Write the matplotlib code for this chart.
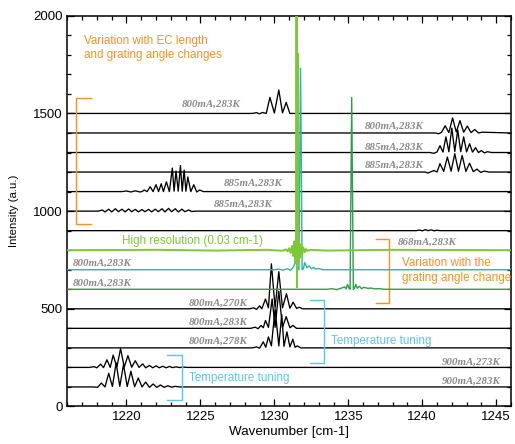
import matplotlib
matplotlib.use("Agg")
import matplotlib.pyplot as plt
from matplotlib.ticker import MultipleLocator

plt.rcParams['font.family'] = ['Liberation Sans', 'DejaVu Sans']

# ---------------- data (offsets above each baseline) ----------------
XMIN, XMAX = 1216, 1246

s1_x = [1216, 1228.5, 1228.8, 1229.0, 1229.2, 1229.45, 1229.7, 1230.0, 1230.3, 1230.55, 1230.8, 1231.05, 1246]
s1_y = [0, 0, 4, -2, 5, 0, 82, 2, 120, 3, 56, 0, 0]

s2_x = [1216, 1240.9, 1241.1, 1241.3, 1241.55, 1241.8, 1242.05, 1242.3, 1242.55, 1242.8, 1243.05, 1243.3, 1243.55, 1243.8, 1244.05, 1246]
s2_y = [0, 0, -4, 3, 37, 2, 77, 5, 63, 4, 35, 2, 18, 0, 4, 0]

s3_x = [1216, 1240.5, 1240.8, 1241.0, 1241.2, 1241.4, 1241.6, 1241.8, 1242.0, 1242.2, 1242.4, 1242.6, 1242.8, 1243.0, 1243.2, 1243.4, 1243.6, 1243.8, 1244.0, 1244.2, 1244.4, 1244.7, 1246]
s3_y = [0, 0, -4, 3, 35, 2, 80, 4, 125, 5, 115, 4, 80, 3, 45, 2, 25, 0, 10, -2, 4, 0, 0]

s4_x = [1216, 1240.2, 1240.4, 1240.6, 1240.8, 1241.0, 1241.2, 1241.45, 1241.7, 1241.95, 1242.2, 1242.45, 1242.7, 1242.95, 1243.2, 1243.45, 1243.7, 1243.95, 1244.2, 1244.5, 1246]
s4_y = [0, 0, -5, 2, 8, 0, 43, 3, 77, 4, 94, 4, 85, 3, 45, 2, 15, -2, 5, 0, 0]

s5_x = [1216, 1219.7, 1220.0, 1220.3, 1220.6, 1220.9, 1221.05, 1221.2, 1221.4, 1221.6, 1221.8, 1222.0, 1222.17, 1222.35, 1222.5, 1222.7, 1222.9, 1223.1, 1223.22, 1223.35, 1223.5, 1223.65, 1223.77, 1223.9, 1224.02, 1224.15, 1224.35, 1224.55, 1224.75, 1224.95, 1225.2, 1246]
s5_y = [0, 0, 3, -2, 4, -2, 0, 8, 0, 25, 0, 35, 0, 40, 0, 50, 0, 120, 2, 105, 2, 133, 2, 110, 2, 75, 0, 35, -2, 8, 0, 0]

s6_x = [1216, 1218.1, 1218.35, 1218.55, 1218.8, 1219.0, 1219.25, 1219.45, 1219.7, 1219.9, 1220.15, 1220.35, 1220.6, 1220.8, 1221.05, 1221.25, 1221.5, 1221.7, 1221.95, 1222.15, 1222.4, 1222.6, 1222.85, 1223.05, 1223.3, 1223.5, 1223.75, 1223.95, 1224.2, 1224.4, 1224.7, 1246]
s6_y = [0, 0, 6, -4, 10, -4, 12, -3, 10, -4, 11, -3, 9, -4, 8, -3, 9, -4, 10, -3, 12, -4, 14, -3, 12, -4, 10, -3, 6, -2, 0, 0]

s7_x = [1216, 1239.6, 1239.8, 1240.0, 1240.2, 1240.4, 1240.6, 1240.8, 1241.0, 1241.2, 1246]
s7_y = [0, 0, 3, -1, 5, 0, 4, -1, 2, 0, 0]

hr_x = [1216, 1222.0, 1226.0, 1229.5, 1230.5, 1230.8, 1230.9, 1231.0, 1231.1, 1231.2, 1231.28, 1231.35, 1231.42, 1231.47, 1231.5, 1231.53, 1231.58, 1231.62, 1231.66, 1231.72, 1231.8, 1231.88, 1231.96, 1232.05, 1232.15, 1232.25, 1232.4, 1233.5, 1238.0, 1246]
hr_y = [0, 2, -2, 2, -3, 4, -6, 10, -14, 22, -30, 45, -60, 80, 1500, -190, 1008, -70, 55, -40, 30, -22, 14, -10, 6, -4, 2, -2, 2, 0]

tl_x = [1216, 1230.0, 1230.3, 1230.6, 1230.9, 1231.1, 1231.3, 1231.45, 1231.58, 1231.66, 1231.77, 1231.88, 1231.97, 1232.05, 1232.2, 1232.35, 1232.5, 1232.65, 1232.8, 1233.0, 1233.3, 1246]
tl_y = [0, 0, 3, -2, 5, -3, 15, 46, 5, 0, 1031, 0, 5, 37, 10, 20, 5, 12, 3, 6, 0, 0]

dg_x = [1216, 1233.6, 1233.9, 1234.2, 1234.5, 1234.75, 1234.85, 1234.95, 1235.05, 1235.12, 1235.23, 1235.34, 1235.42, 1235.5, 1235.6, 1235.75, 1235.9, 1236.05, 1236.3, 1236.55, 1236.8, 1237.1, 1237.4, 1246]
dg_y = [0, 0, 3, -2, 5, 12, 2, 25, 5, 0, 982, 0, 5, 25, 5, 15, 3, 10, 5, 6, 2, 3, 0, 0]

s11_x = [1216, 1228.3, 1228.6, 1228.8, 1229.0, 1229.15, 1229.4, 1229.6, 1229.8, 1230.05, 1230.3, 1230.55, 1230.82, 1231.05, 1231.27, 1231.5, 1231.7, 1231.9, 1246]
s11_y = [0, 0, 5, -3, 15, 0, 50, 5, 230, 5, 190, 5, 77, 3, 34, 2, 8, 0, 0]

s12_x = [1216, 1228.4, 1228.7, 1228.9, 1229.1, 1229.25, 1229.4, 1229.6, 1229.85, 1230.05, 1230.3, 1230.55, 1230.8, 1231.05, 1231.25, 1231.5, 1246]
s12_y = [0, 0, 6, -2, 15, 3, 40, 5, 150, 5, 190, 5, 60, 3, 15, 0, 0]

s13_x = [1216, 1228.5, 1228.8, 1229.0, 1229.25, 1229.42, 1229.6, 1229.8, 1230.05, 1230.3, 1230.5, 1230.65, 1230.85, 1231.05, 1231.25, 1231.4, 1231.55, 1231.8, 1246]
s13_y = [0, 0, 5, -2, 31, 3, 56, 10, 200, 10, 170, 8, 82, 5, 44, 3, 10, 0, 0]

s14_x = [1216, 1217.5, 1217.8, 1218.0, 1218.25, 1218.45, 1218.68, 1218.9, 1219.1, 1219.35, 1219.6, 1219.85, 1220.1, 1220.35, 1220.6, 1220.85, 1221.1, 1221.3, 1221.55, 1221.78, 1222.0, 1222.22, 1222.45, 1222.68, 1222.9, 1223.12, 1223.35, 1223.6, 1223.8, 1224.1, 1246]
s14_y = [0, 0, 4, -2, 17, -1, 39, 0, 63, 2, 96, 2, 60, 1, 34, 0, 18, -2, 10, -2, 8, -2, 6, -2, 5, -1, 3, -1, 2, 0, 0]

s15_x = [1216, 1217.8, 1218.05, 1218.3, 1218.55, 1218.8, 1219.05, 1219.3, 1219.55, 1219.8, 1220.05, 1220.3, 1220.55, 1220.8, 1221.05, 1221.3, 1221.55, 1221.8, 1222.05, 1222.3, 1222.55, 1222.8, 1223.05, 1223.3, 1223.6, 1246]
s15_y = [0, 0, -2, 20, 0, 70, 2, 123, 3, 115, 2, 80, 1, 46, 0, 25, -2, 15, -2, 10, -2, 6, -1, 3, 0, 0]

black_spectra = [(1500, s1_x, s1_y), (1400, s2_x, s2_y), (1300, s3_x, s3_y), (1200, s4_x, s4_y),
                 (1100, s5_x, s5_y), (1000, s6_x, s6_y), (900, s7_x, s7_y),
                 (500, s11_x, s11_y), (400, s12_x, s12_y), (300, s13_x, s13_y),
                 (200, s14_x, s14_y), (100, s15_x, s15_y)]
color_spectra = [(600, dg_x, dg_y, '#2f9e4a', 1.0), (700, tl_x, tl_y, '#2fb3a5', 1.0),
                 (800, hr_x, hr_y, '#7cc934', 1.4)]

labels = [
    ("800mA,283K", 1223.77, 1546), ("800mA,283K", 1236.1, 1432), ("885mA,283K", 1236.1, 1329),
    ("885mA,283K", 1236.1, 1235), ("885mA,283K", 1226.6, 1142), ("885mA,283K", 1225.9, 1036),
    ("868mA,283K", 1238.35, 838), ("800mA,283K", 1216.34, 732), ("800mA,283K", 1216.34, 633),
    ("800mA,270K", 1224.22, 530), ("800mA,283K", 1224.22, 433), ("800mA,278K", 1224.22, 336),
    ("900mA,273K", 1241.34, 228), ("900mA,283K", 1241.34, 130),
]

xticks = [1220, 1225, 1230, 1235, 1240, 1245]
yticks = [0, 500, 1000, 1500, 2000]

ORANGE = '#f7931e'
BLUE = '#5bc6ee'

# ---------------- figure ----------------
fig = plt.figure(figsize=(5.15, 4.44), dpi=100)
ax = fig.add_axes([0.1307, 0.0845, 0.8615, 0.880])

for base, xs, ys in black_spectra:
    ax.plot(xs, [base + v for v in ys], color='black', lw=0.95, zorder=2)
for base, xs, ys, c, lw in color_spectra:
    ax.plot(xs, [base + v for v in ys], color=c, lw=lw, zorder=3)

for txt, x, y in labels:
    ax.text(x, y, txt, fontsize=7.8, fontweight='bold', fontstyle='italic', family='Liberation Serif',
            color='#8a8a8a', va='center', ha='left', zorder=4)

# annotations
ax.text(1217.1, 1870, "Variation with EC length", color=ORANGE, fontsize=8.4, va='center')
ax.text(1217.1, 1799, "and grating angle changes", color=ORANGE, fontsize=8.4, va='center')
ax.plot([1217.58, 1216.6, 1216.6, 1217.58], [1580, 1580, 932, 932], color=ORANGE, lw=1.0)

ax.text(1219.68, 846, "High resolution (0.03 cm-1)", color='#7cc934', fontsize=8.4, va='center')

ax.plot([1236.86, 1237.76, 1237.76, 1236.86], [855, 855, 532, 532], color=ORANGE, lw=1.0)
ax.text(1238.6, 732, "Variation with the", color=ORANGE, fontsize=8.4, va='center', clip_on=False)
ax.text(1238.6, 659, "grating angle change", color=ORANGE, fontsize=8.4, va='center', clip_on=False)

ax.plot([1232.4, 1233.37, 1233.37, 1232.4], [544, 544, 223, 223], color=BLUE, lw=1.0)
ax.text(1233.86, 336, "Temperature tuning", color=BLUE, fontsize=8.4, va='center')
ax.plot([1222.76, 1223.77, 1223.77, 1222.76], [266, 266, 32, 32], color=BLUE, lw=1.0)
ax.text(1224.24, 146, "Temperature tuning", color=BLUE, fontsize=8.4, va='center')

ax.set_xlim(XMIN, XMAX)
ax.set_ylim(0, 2000)
ax.set_xticks(xticks)
ax.set_yticks(yticks)
ax.xaxis.set_minor_locator(MultipleLocator(1))
ax.yaxis.set_minor_locator(MultipleLocator(100))
ax.tick_params(which='both', direction='in', top=True, right=True, labelsize=9.5, width=0.9)
ax.tick_params(which='major', length=5)
ax.tick_params(which='minor', length=3)
for sp in ax.spines.values():
    sp.set_linewidth(1.1)
ax.set_xlabel("Wavenumber [cm-1]", fontsize=9.6, labelpad=2)
ax.set_ylabel("Intensity (a.u.)", fontsize=8.2, labelpad=10)

fig.savefig("out.png", dpi=100)
